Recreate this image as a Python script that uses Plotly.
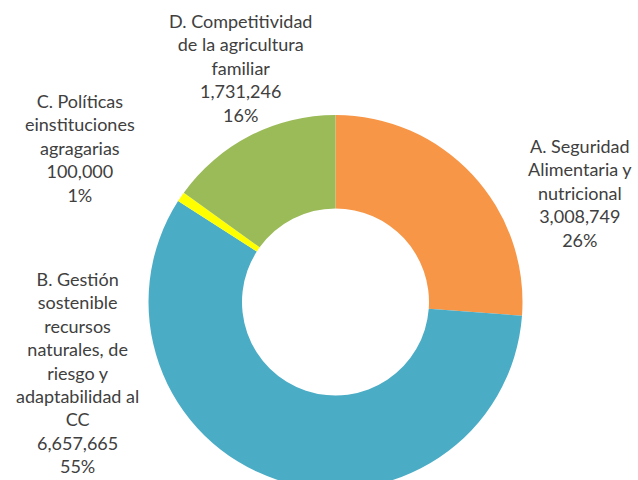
import plotly.graph_objects as go

categories = ["A. Seguridad Alimentaria y nutricional",
              "B. Gestión sostenible recursos naturales, de riesgo y adaptabilidad al CC",
              "C. Políticas einstituciones agragarias",
              "D. Competitividad de la agricultura familiar"]
values = [3008749, 6657665, 100000, 1731246]
pct_labels = ["26%", "55%", "1%", "16%"]
label_lines = [
    ["A. Seguridad", "Alimentaria y", "nutricional"],
    ["B. Gestión", "sostenible", "recursos", "naturales, de", "riesgo y", "adaptabilidad al", "CC"],
    ["C. Políticas", "einstituciones", "agragarias"],
    ["D. Competitividad", "de la agricultura", "familiar"],
]
colors = ["#F79646", "#4BACC6", "#FFFF00", "#9BBB59"]

W, H = 638, 489
cx, cy, R = 335.5, 302, 187

fig = go.Figure(go.Pie(
    labels=categories, values=values, hole=0.5, sort=False,
    direction="clockwise", rotation=0,
    marker=dict(colors=colors, line=dict(width=0)),
    textinfo="none", hoverinfo="label+value+percent",
    domain=dict(x=[(cx - R) / W, (cx + R) / W], y=[0, 2 * R / H]),
    showlegend=False,
))

label_pos = [(580, 192.5), (77, 372), (80, 148), (240, 68.5)]
for i, (px, py) in enumerate(label_pos):
    txt = "<br>".join(label_lines[i] + [f"{values[i]:,}", pct_labels[i]])
    fig.add_annotation(text=txt, x=px / W, y=1 - py / H, xref="paper", yref="paper",
                       xanchor="center", yanchor="middle", showarrow=False, align="center",
                       font=dict(family="Lato", size=18, color="#404040"))

fig.update_layout(width=W, height=H, margin=dict(l=0, r=0, t=0, b=0),
                  paper_bgcolor="white", plot_bgcolor="white")

fig.write_html("out.html", config={"displayModeBar": False},
               post_script="document.documentElement.style.overflow='hidden';document.body.style.overflow='hidden';document.body.style.margin='0';")
